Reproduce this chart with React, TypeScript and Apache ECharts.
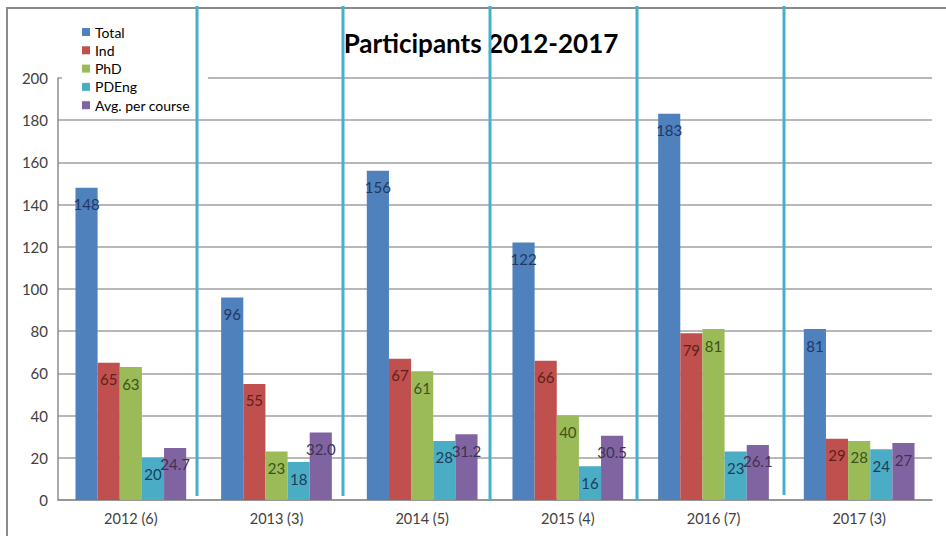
import React, { useEffect, useRef } from "react";
import * as echarts from "echarts";

const categories = ["2012 (6)", "2013 (3)", "2014 (5)", "2015 (4)", "2016 (7)", "2017 (3)"];
const seriesNames = ["Total", "Ind", "PhD", "PDEng", "Avg. per course"];
const totalValues = [148, 96, 156, 122, 183, 81];
const indValues = [65, 55, 67, 66, 79, 29];
const phdValues = [63, 23, 61, 40, 81, 28];
const pdengValues = [20, 18, 28, 16, 23, 24];
const avgValues = [24.7, 32.0, 31.2, 30.5, 26.1, 27];
const avgLabels = ["24.7", "32.0", "31.2", "30.5", "26.1", "27"];
const yTicks = [0, 20, 40, 60, 80, 100, 120, 140, 160, 180, 200];

const barColors = ["#4f81bd", "#c0504d", "#9bbb59", "#4bacc6", "#8064a2"];
const labelColors = ["#1f3864", "#5e1f1d", "#3d5218", "#17405a", "#3f3151"];
const dividerX = [197, 343, 490, 637, 784];
const dividerBottom = [496, 496, 501, 501, 495];

export default function App() {
  const ref = useRef<HTMLDivElement>(null);
  useEffect(() => {
    if (!ref.current) return;
    const chart = echarts.init(ref.current, null, { renderer: "svg" });
    const font = "Lato, 'Open Sans', sans-serif";
    const dataSets = [totalValues, indValues, phdValues, pdengValues, avgValues];
    const series = dataSets.map((d, i) => ({
      name: seriesNames[i],
      type: "bar",
      data: d,
      barGap: "0%",
      barCategoryGap: "24%",
      itemStyle: { color: barColors[i] },
      label: {
        show: true,
        position: "insideTop",
        distance: 9,
        color: labelColors[i],
        fontFamily: font,
        fontSize: 15,
        formatter: (p: any) => (i === 4 ? avgLabels[p.dataIndex] : String(p.value)),
      },
    }));
    chart.setOption({
      animation: false,
      backgroundColor: "#ffffff",
      textStyle: { fontFamily: font },
      title: {
        text: "Participants 2012-2017",
        left: 476,
        top: 25,
        textAlign: "center",
        textStyle: { fontFamily: font, fontSize: 26, fontWeight: "bold", color: "#000000" },
      },
      legend: {
        orient: "vertical",
        left: 62,
        top: 18,
        padding: [7, 18, 5, 20],
        backgroundColor: "#ffffff",
        itemWidth: 8,
        itemHeight: 8,
        itemGap: 4.3,
        icon: "rect",
        textStyle: { fontFamily: font, fontSize: 14, color: "#000000", lineHeight: 14 },
        data: seriesNames,
        z: 5,
      },
      grid: { left: 58, right: 14, top: 78, bottom: 36, containLabel: false },
      xAxis: {
        type: "category",
        data: categories,
        axisLine: { lineStyle: { color: "#8c8c8c", width: 1.5 } },
        axisTick: { show: false },
        axisLabel: { color: "#404040", fontFamily: font, fontSize: 14.5, margin: 11 },
      },
      yAxis: {
        type: "value",
        min: 0,
        max: 200,
        interval: 20,
        axisLine: { show: true, lineStyle: { color: "#8c8c8c", width: 1.5 } },
        axisTick: { show: false },
        axisLabel: {
          color: "#404040",
          fontFamily: font,
          fontSize: 15,
          margin: 10,
          formatter: (v: number) => (yTicks.includes(v) ? String(v) : ""),
        },
        splitLine: { lineStyle: { color: "#a0a0a0", width: 1.5 } },
      },
      graphic: [
        {
          type: "rect",
          shape: { x: 7, y: 8, width: 1000, height: 1000 },
          style: { fill: "none", stroke: "#8a8a8a", lineWidth: 2 },
          silent: true,
          z: 1,
        },
        ...dividerX.map((x, i) => ({
          type: "line",
          shape: { x1: x, y1: 6, x2: x, y2: dividerBottom[i] },
          style: { stroke: "#45afcd", lineWidth: 3 },
          silent: true,
          z: 100,
        })),
      ],
      series,
    });
    return () => chart.dispose();
  }, []);
  return (
    <div
      ref={ref}
      style={{ position: "fixed", left: 0, top: 0, width: 946, height: 536 }}
    />
  );
}
